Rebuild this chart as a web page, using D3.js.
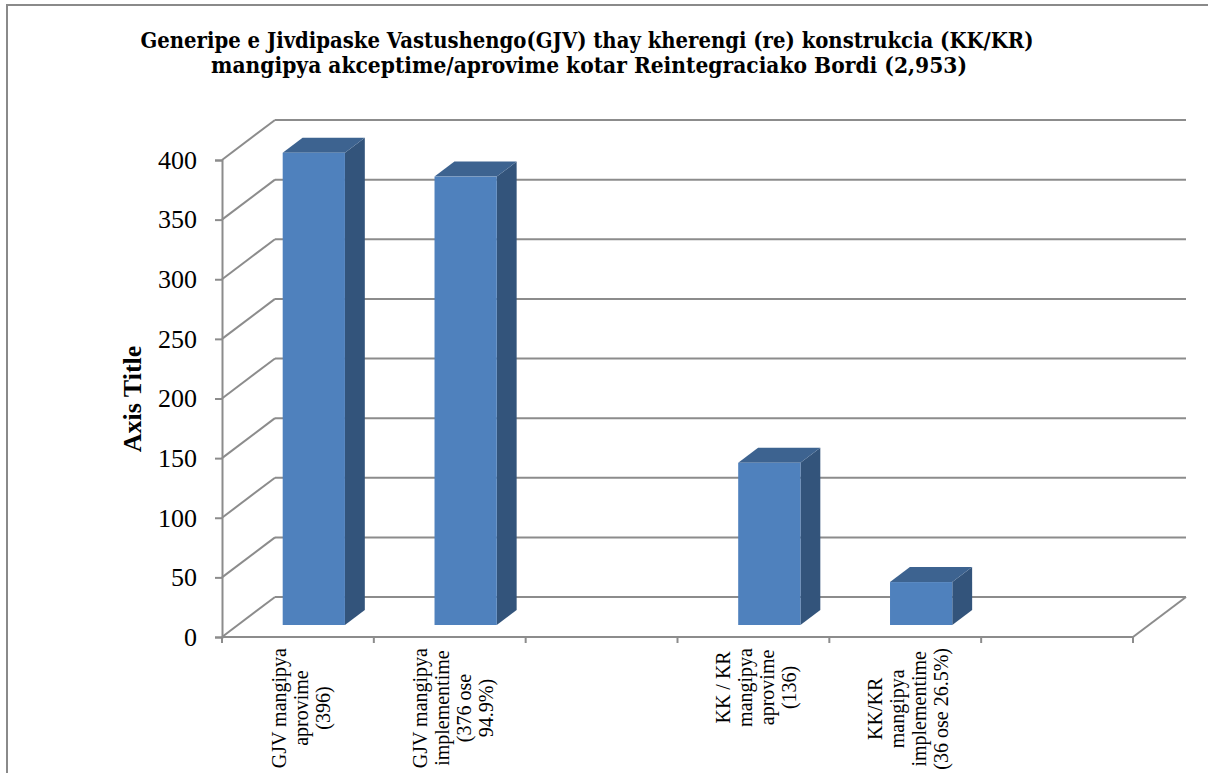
<!DOCTYPE html>
<html>
<head>
<meta charset="utf-8">
<script src="https://cdn.jsdelivr.net/npm/d3@7"></script>
<style>
  body { margin: 0; background: #fff; }
  svg { display: block; }
</style>
</head>
<body>
<svg width="1208" height="773"></svg>
<script>
// chart data
var categories = [
    ["GJV mangipya", "aprovime", "(396)"],
    ["GJV mangipya", "implementime", "(376 ose", "94.9%)"],
    [],
    ["KK / KR", "mangipya", "aprovime", "(136)"],
    ["KK/KR", "mangipya", "implementime", "(36 ose 26.5%)"],
    []
];
var values = [396, 376, null, 136, 36, null];
var yTicks = [0, 50, 100, 150, 200, 250, 300, 350, 400];
var titleLines = [
    "Generipe e Jivdipaske Vastushengo(GJV) thay kherengi (re) konstrukcia (KK/KR)",
    "mangipya akceptime/aprovime kotar Reintegraciako Bordi (2,953)"
];
var axisTitle = "Axis Title";

var svg = d3.select("svg");
var grid = "#8c8c8c";

// 3d wall offset
var DX = 53, DY = -40;
var zFront = 0.3, zBack = 0.675;

var ys = d3.scaleLinear().domain([0, 400]).range([637, 160]);
var xs = d3.scaleBand().domain(d3.range(categories.length)).range([222, 1133]).padding(0);

// outer border
svg.append("rect")
    .attr("x", 7).attr("y", 5)
    .attr("width", 1230).attr("height", 800)
    .attr("fill", "none").attr("stroke", "#8a8a8a").attr("stroke-width", 2);

// title
svg.selectAll(".title")
    .data(titleLines)
    .enter()
    .append("text")
        .attr("x", function(d, i) { return i == 0 ? 587 : 589; })
        .attr("y", function(d, i) { return 48 + i * 25; })
        .attr("text-anchor", "middle")
        .attr("textLength", function(d, i) { return i == 0 ? 893 : 756; })
        .attr("lengthAdjust", "spacingAndGlyphs")
        .style("font-family", "'DejaVu Serif', 'Liberation Serif', serif")
        .style("font-weight", "bold")
        .style("font-size", "22.5px")
        .text(function(d) { return d; });

var x0 = xs.range()[0], x1 = xs.range()[1];

// back wall gridlines + side wall diagonals
var g = svg.append("g");
g.selectAll(".hgrid")
    .data(yTicks)
    .enter()
    .append("line")
        .attr("x1", x0 + DX).attr("x2", x1 + DX)
        .attr("y1", function(d) { return ys(d) + DY; })
        .attr("y2", function(d) { return ys(d) + DY; })
        .attr("stroke", grid).attr("stroke-width", 2);

g.selectAll(".dgrid")
    .data(yTicks)
    .enter()
    .append("line")
        .attr("x1", x0).attr("x2", x0 + DX)
        .attr("y1", function(d) { return ys(d); })
        .attr("y2", function(d) { return ys(d) + DY; })
        .attr("stroke", grid).attr("stroke-width", 2);

// floor front and right edges
g.append("line")
    .attr("x1", x0).attr("x2", x1)
    .attr("y1", ys(0)).attr("y2", ys(0))
    .attr("stroke", grid).attr("stroke-width", 2);
g.append("line")
    .attr("x1", x1).attr("x2", x1 + DX)
    .attr("y1", ys(0)).attr("y2", ys(0) + DY)
    .attr("stroke", grid).attr("stroke-width", 2);

// x ticks
g.selectAll(".xtick")
    .data(d3.range(categories.length + 1))
    .enter()
    .append("line")
        .attr("x1", function(d) { return x0 + d * xs.bandwidth(); })
        .attr("x2", function(d) { return x0 + d * xs.bandwidth(); })
        .attr("y1", ys(0)).attr("y2", ys(0) + 6)
        .attr("stroke", grid).attr("stroke-width", 2);

// y axis
var yAxis = d3.axisLeft(ys).tickValues(yTicks).tickSize(7).tickPadding(18);
var ya = svg.append("g")
    .attr("transform", "translate(" + x0 + ",0)")
    .call(yAxis);
ya.select(".domain").attr("stroke", grid).attr("stroke-width", 2);
ya.selectAll(".tick line").attr("stroke", grid).attr("stroke-width", 2);
ya.selectAll(".tick text")
    .attr("fill", "#000")
    .style("font-family", "'Liberation Serif', 'Times New Roman', serif")
    .style("font-size", "26px");

// axis title
svg.append("text")
    .attr("transform", "translate(141,399) rotate(-90)")
    .attr("text-anchor", "middle")
    .style("font-family", "'Liberation Serif', 'Times New Roman', serif")
    .style("font-weight", "bold")
    .style("font-size", "26px")
    .text(axisTitle);

// bars
var barData = values.map(function(v, i) { return {v: v, i: i}; })
    .filter(function(d) { return d.v != null; });
var bw = xs.bandwidth() * 0.41;
var fdx = DX * zFront, fdy = DY * zFront;
var ddx = DX * (zBack - zFront), ddy = DY * (zBack - zFront);

var bars = svg.append("g").selectAll(".bar")
    .data(barData)
    .enter()
    .append("g");

function bx(d) { return xs(d.i) + xs.bandwidth() / 2 - bw / 2 + fdx; }
function byTop(d) { return ys(d.v) + fdy; }
var yBase = ys(0) + fdy;

// side
bars.append("path")
    .attr("d", function(d) {
        var r = bx(d) + bw, t = byTop(d);
        return "M" + r + "," + t + "L" + (r + ddx) + "," + (t + ddy) +
               "L" + (r + ddx) + "," + (yBase + ddy) + "L" + r + "," + yBase + "Z";
    })
    .attr("fill", "#33547b");
// top
bars.append("path")
    .attr("d", function(d) {
        var l = bx(d), t = byTop(d);
        return "M" + l + "," + t + "L" + (l + bw) + "," + t +
               "L" + (l + bw + ddx) + "," + (t + ddy) + "L" + (l + ddx) + "," + (t + ddy) + "Z";
    })
    .attr("fill", "#3d6390");
// front
bars.append("rect")
    .attr("x", bx)
    .attr("y", byTop)
    .attr("width", bw)
    .attr("height", function(d) { return yBase - byTop(d); })
    .attr("fill", "#4f81bd");

// category labels (rotated, multi-line)
var labelFont = "'Liberation Serif', 'Times New Roman', serif";
var lineH = 22;
categories.forEach(function(lines, i) {
    if (lines.length == 0) return;
    var cx = xs(i) + xs.bandwidth() / 2 + 4;
    var lg = svg.append("g").attr("transform", "translate(" + cx + ",648) rotate(-90)");
    var t = lg.append("text")
        .attr("text-anchor", "middle")
        .style("font-family", labelFont)
        .style("font-size", "20px");
    t.selectAll("tspan")
        .data(lines)
        .enter()
        .append("tspan")
            .attr("y", function(d, j) { return (j - (lines.length - 1) / 2) * lineH + 6; })
            .text(function(d) { return d; });
    var maxLen = 0;
    t.selectAll("tspan").each(function() {
        maxLen = Math.max(maxLen, this.getComputedTextLength());
    });
    t.selectAll("tspan").attr("x", -maxLen / 2);
});
</script>
</body>
</html>
